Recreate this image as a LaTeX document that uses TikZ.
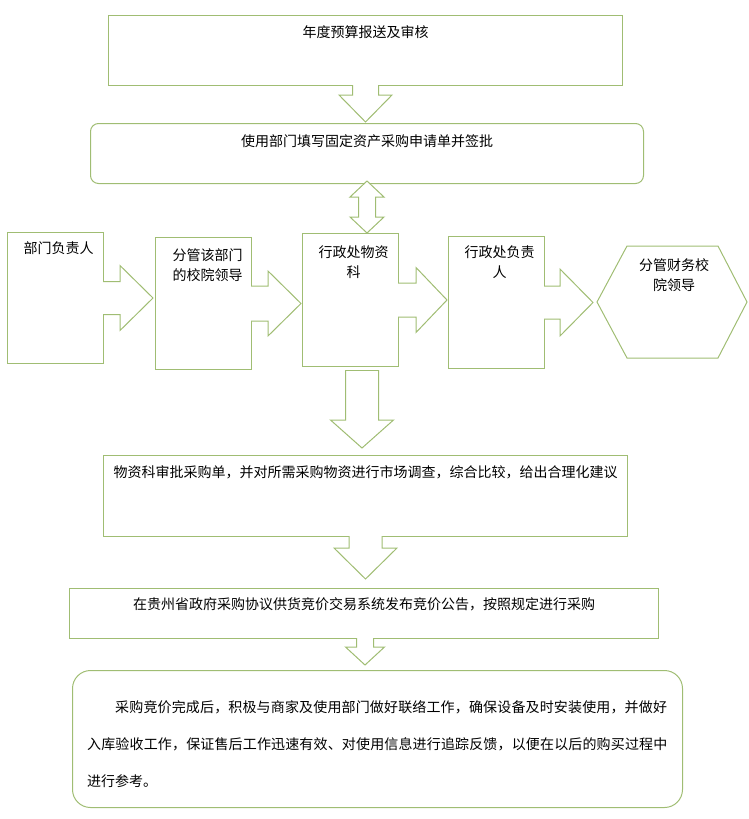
\documentclass[tikz,border=0pt]{standalone}
\usepackage{fontspec}
\setmainfont{Noto Sans CJK SC}
\usetikzlibrary{calc, positioning}
\definecolor{boxgreen}{RGB}{160,189,115}

\tikzset{
  flowbox/.style={draw=boxgreen, line width=1pt, inner sep=0pt, anchor=north west},
  toptext/.style={anchor=north, inner sep=0pt, align=center,
                  font=\fontsize{14}{20}\selectfont},
  blkarrow/.style={draw=boxgreen, fill=white, line width=1pt, line join=miter}
}

% block arrows: start, tip, shaft half width, head half width, head length
\newcommand{\blkdown}[5]{%
  \draw[blkarrow] ($#1+(-#3,-1)$) -- ($#2+(-#3,-#5)$) -- ($#2+(-#4,-#5)$) -- #2
    -- ($#2+(#4,-#5)$) -- ($#2+(#3,-#5)$) -- ($#1+(#3,-1)$);}
\newcommand{\blkright}[5]{%
  \draw[blkarrow] ($#1+(-1,-#3)$) -- ($#2+(-#5,-#3)$) -- ($#2+(-#5,-#4)$) -- #2
    -- ($#2+(-#5,#4)$) -- ($#2+(-#5,#3)$) -- ($#1+(-1,#3)$);}
\newcommand{\blkboth}[5]{%
  \draw[blkarrow] #1 -- ($#1+(#4,#5)$) -- ($#1+(#3,#5)$) -- ($#2+(#3,-#5)$)
    -- ($#2+(#4,-#5)$) -- #2 -- ($#2+(-#4,-#5)$) -- ($#2+(-#3,-#5)$)
    -- ($#1+(-#3,#5)$) -- ($#1+(-#4,#5)$) -- cycle;}

\begin{document}
\begin{tikzpicture}[x=1pt, y=-1pt]
  \useasboundingbox (0,0) rectangle (749,819);

  % top of the chart
  \node[flowbox, minimum width=514pt, minimum height=70pt,
        label={[toptext, yshift=-10pt]north:年度预算报送及审核}] (budget) at (108,15) {};
  \node[flowbox, rounded corners=8pt, minimum width=553pt, minimum height=60pt,
        label={[toptext, yshift=-11pt]north:使用部门填写固定资产采购申请单并签批}] (apply) at (90,123) {};

  % row of approvers
  \node[flowbox, minimum width=96pt, minimum height=131pt,
        label={[toptext, yshift=-9pt, xshift=3pt]north:部门负责人}] (dept) at (7,232) {};
  \node[flowbox, minimum width=96pt, minimum height=132pt,
        label={[toptext, yshift=-11pt, xshift=4pt]north:分管该部门\\的校院领导}] (leader) at (155,237) {};
  \node[flowbox, minimum width=96pt, minimum height=133pt,
        label={[toptext, yshift=-13pt, xshift=3pt]north:行政处物资\\科}] (office) at (302,233) {};
  \node[flowbox, minimum width=96pt, minimum height=132pt,
        label={[toptext, yshift=-10pt, xshift=3pt]north:行政处负责\\人}] (director) at (448,236) {};
  \node[flowbox, draw=none, minimum width=149pt, minimum height=111pt,
        label={[toptext, yshift=-12pt, xshift=2pt]north:分管财务校\\院领导}] (finlead) at (597,246) {};
  \draw[blkarrow, fill=none] (finlead.west) -- ($(finlead.north west)+(30,0)$)
    -- ($(finlead.north east)+(-29,0)$) -- (finlead.east)
    -- ($(finlead.south east)+(-29,0)$) -- ($(finlead.south west)+(30,0)$) -- cycle;

  % lower part
  \node[flowbox, minimum width=524pt, minimum height=81pt,
        label={[toptext, yshift=-10pt]north:物资科审批采购单，并对所需采购物资进行市场调查，综合比较，给出合理化建议}] (review) at (103,455) {};
  \node[flowbox, minimum width=589pt, minimum height=50pt,
        label={[toptext, yshift=-9pt]north:在贵州省政府采购协议供货竞价交易系统发布竞价公告，按照规定进行采购}] (publish) at (69,588) {};
  \node[flowbox, rounded corners=18pt, minimum width=610pt, minimum height=137pt] (accept) at (72,670) {};
  \node[anchor=north west, inner sep=0pt, align=left,
        font=\fontsize{14}{37}\selectfont] (acctext) at ($(accept.north west)+(15,30)$)
    {\hspace*{28pt}{\addfontfeature{LetterSpace=1.1}采购竞价完成后，积极与商家及使用部门做好联络工作，确保设备及时安装使用，并做好}\\
     {\addfontfeature{LetterSpace=1.1}入库验收工作，保证售后工作迅速有效、对使用信息进行追踪反馈，以便在以后的购买过程中}\\
     进行参考。};

  % block arrows
  \coordinate (t1) at ($(budget.south |- apply.north)+(0,-1)$);
  \blkdown{(budget.south)}{(t1)}{13}{26.5}{27}
  \coordinate (d1) at ($(apply.south)+(0,-3)$);
  \coordinate (d2) at (apply.south |- office.north);
  \blkboth{(d1)}{(d2)}{8.5}{17}{16}
  \coordinate (h1) at ($(dept.east -| leader.west)+(-2,0)$);
  \blkright{(dept.east)}{(h1)}{16.5}{32.5}{33}
  \coordinate (h2) at ($(leader.east -| office.west)+(-1,0)$);
  \blkright{(leader.east)}{(h2)}{17.5}{32.5}{33}
  \coordinate (h3) at ($(office.east -| director.west)+(-1,0)$);
  \blkright{(office.east)}{(h3)}{17}{32.5}{31}
  \coordinate (h4) at ($(director.east -| finlead.west)+(-4,0)$);
  \blkright{(director.east)}{(h4)}{16.5}{33.5}{33}
  \coordinate (s3) at ($(office.south)+(11.5,4)$);
  \coordinate (t3) at ($(s3 |- review.north)+(0,-7)$);
  \blkdown{(s3)}{(t3)}{16.5}{31.5}{28}
  \draw[blkarrow] ($(s3)+(-16.5,-1)$) -- ($(s3)+(16.5,-1)$);
  \coordinate (t4) at ($(review.south |- publish.north)+(0,-9)$);
  \blkdown{(review.south)}{(t4)}{16.5}{31.5}{31}
  \coordinate (s5) at ($(publish.south)+(1,0)$);
  \coordinate (t5) at ($(s5 |- accept.north)+(0,-5)$);
  \blkdown{(s5)}{(t5)}{8.5}{19.5}{18}
\end{tikzpicture}
\end{document}
